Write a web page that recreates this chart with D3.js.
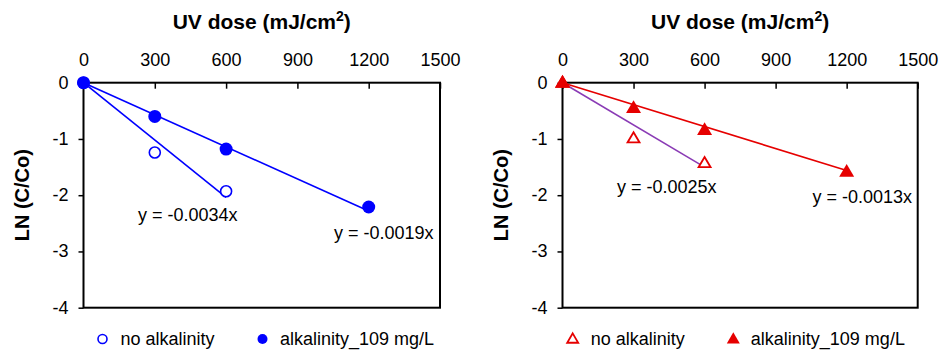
<!DOCTYPE html>
<html><head><meta charset="utf-8">
<script src="https://cdn.jsdelivr.net/npm/d3@7/dist/d3.min.js"></script>
<style>
body{margin:0;background:#fff;}
svg text{font-family:"Liberation Sans",Arial,sans-serif;}
</style></head>
<body><svg id="c" width="939" height="353"></svg>
<script>
// Data
const doses = [0, 300, 600, 1200];
const leftNoAlk = [0, -1.24, -1.93];          // doses 0,300,600
const leftAlk = [0, -0.60, -1.18, -2.21];     // doses 0,300,600,1200
const rightNoAlk = [0, -0.99, -1.43];
const rightAlk = [0, -0.45, -0.84, -1.58];
const slopes = {leftNoAlk: -0.0034, leftAlk: -0.0019, rightNoAlk: -0.0025, rightAlk: -0.0013};
const xTicks = [0, 300, 600, 900, 1200, 1500];
const yTicks = [0, -1, -2, -3, -4];
const legendLabels = ["no alkalinity", "alkalinity_109 mg/L"];

const svg = d3.select("#c");

function panel(opt) {
  const x = d3.scaleLinear().domain([0, 1500]).range([opt.x0, opt.x1]);
  const y = d3.scaleLinear().domain([0, -4]).range([82.7, 307.7]);
  const g = svg.append("g");

  // plot frame
  g.append("rect").attr("x", opt.x0).attr("y", y(0)).attr("width", opt.x1 - opt.x0)
    .attr("height", y(-4) - y(0)).attr("fill", "none").attr("stroke", "#000").attr("stroke-width", 2);

  // x axis on top, ticks inside
  const xa = g.append("g").attr("transform", `translate(0,${y(0)})`)
    .call(d3.axisTop(x).tickValues(xTicks).tickSize(-6).tickPadding(17).tickFormat(d => String(d)));
  xa.select(".domain").remove();
  xa.selectAll("line").attr("stroke", "#000").attr("stroke-width", 1.5);
  xa.selectAll("text").attr("font-size", 18).attr("fill", "#000");

  const ya = g.append("g").attr("transform", `translate(${opt.x0},0)`)
    .call(d3.axisLeft(y).tickValues(yTicks).tickSize(5).tickPadding(10).tickFormat(d => String(d)));
  ya.select(".domain").remove();
  ya.selectAll("line").attr("stroke", "#000").attr("stroke-width", 1.5);
  ya.selectAll("text").attr("font-size", 18).attr("fill", "#000").attr("dy", "0.3em");

  // axis titles
  const t = g.append("text").attr("x", (opt.x0 + opt.x1) / 2).attr("y", 28.5)
    .attr("text-anchor", "middle").attr("font-size", 21).attr("font-weight", "bold");
  t.append("tspan").text("UV dose (mJ/cm");
  t.append("tspan").text("2").attr("font-size", 14).attr("dy", -8);
  t.append("tspan").text(")").attr("dy", 8);

  g.append("text").attr("transform", `translate(${opt.x0 - 55},${(y(0) + y(-4)) / 2}) rotate(-90)`)
    .attr("text-anchor", "middle").attr("font-size", 20).attr("font-weight", "bold").text("LN (C/Co)");

  // trend lines
  const line = d3.line().x(d => x(d[0])).y(d => y(d[1]));
  g.append("path").datum([[0, 0], [600, 600 * opt.slopeNo]]).attr("d", line)
    .attr("fill", "none").attr("stroke", opt.lineNo).attr("stroke-width", 1.6);
  g.append("path").datum([[0, 0], [1200, 1200 * opt.slopeAlk]]).attr("d", line)
    .attr("fill", "none").attr("stroke", opt.lineAlk).attr("stroke-width", 1.6);

  // markers
  const noPts = opt.noAlk.map((v, i) => [doses[i], v]);
  const alkPts = opt.alk.map((v, i) => [doses[i], v]);
  const drawMarker = (sel, px, py, filled, big) => {
    if (opt.shape === "circle") {
      sel.append("circle").attr("cx", px).attr("cy", py).attr("r", filled ? (big ? 6.5 : 5) : (big ? 5.5 : 4.5))
        .attr("fill", filled ? opt.color : "#fff").attr("stroke", opt.color).attr("stroke-width", filled ? 0 : 1.6);
    } else {
      const s = filled ? (big ? 7.5 : 6.5) : (big ? 6 : 5.5);
      const h = s * 1.7;
      const pts = [[px, py - h * 0.6], [px + s, py + h * 0.4], [px - s, py + h * 0.4]];
      sel.append("path").attr("d", "M" + pts.map(p => p.join(",")).join("L") + "Z")
        .attr("fill", filled ? opt.color : "#fff").attr("stroke", opt.color).attr("stroke-width", filled ? 0 : 1.8);
    }
  };
  noPts.forEach(p => drawMarker(g, x(p[0]), y(p[1]), false, true));
  alkPts.forEach(p => drawMarker(g, x(p[0]), y(p[1]), true, true));

  // equation labels
  g.append("text").attr("x", opt.eqNo[0]).attr("y", opt.eqNo[1]).attr("font-size", 18)
    .text(`y = ${opt.slopeNo}x`);
  g.append("text").attr("x", opt.eqAlk[0]).attr("y", opt.eqAlk[1]).attr("font-size", 18)
    .text(`y = ${opt.slopeAlk}x`);

  // legend
  const ly = 339;
  drawMarker(g, opt.leg[0], ly, false, false);
  g.append("text").attr("x", opt.leg[0] + 18).attr("y", ly).attr("dy", "0.35em").attr("font-size", 18).text(legendLabels[0]);
  drawMarker(g, opt.leg[1], ly, true, false);
  g.append("text").attr("x", opt.leg[1] + 17.5).attr("y", ly).attr("dy", "0.35em").attr("font-size", 18).text(legendLabels[1]);
}

panel({x0: 83.5, x1: 440, noAlk: leftNoAlk, alk: leftAlk, slopeNo: slopes.leftNoAlk, slopeAlk: slopes.leftAlk,
  color: "#0000ff", lineNo: "#0000ff", lineAlk: "#0000ff", shape: "circle",
  eqNo: [138, 221], eqAlk: [334, 239], leg: [102.5, 262.5]});
panel({x0: 562.5, x1: 917.7, noAlk: rightNoAlk, alk: rightAlk, slopeNo: slopes.rightNoAlk, slopeAlk: slopes.rightAlk,
  color: "#e60000", lineNo: "#8a3bb5", lineAlk: "#e60000", shape: "triangle",
  eqNo: [617, 193], eqAlk: [812.5, 203], leg: [572.7, 733.3]});
</script></body></html>
